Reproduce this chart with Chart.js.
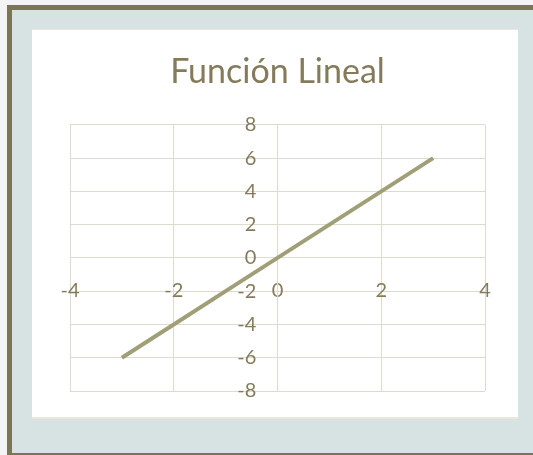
<!DOCTYPE html>
<html>
<head>
<meta charset="utf-8">
<script src="https://cdn.jsdelivr.net/npm/chart.js@4"></script>
<style>
  body { margin: 0; background: #f4f4f4; width: 533px; height: 455px; overflow: hidden; position: relative; }
  #frame { position: absolute; left: 7px; top: 5px; width: 526px; height: 450px;
           border-left: 5px solid #7a7654; border-top: 5px solid #7a7654; border-bottom: 2px solid #7a7654;
           background: #d7e3e3; box-sizing: border-box; }
  #panel { position: absolute; left: 32px; top: 29px; width: 486px; height: 390px;
           background: #fff; border-top: 1px solid #ece7dd; border-bottom: 2px solid #ece7dd; box-sizing: border-box; }
  #panel canvas { position: absolute; left: 0; top: 0; }
</style>
</head>
<body>
<div id="frame"></div>
<div id="panel"><canvas id="lineal" width="486" height="390"></canvas></div>
<script>
const xValues = [-3, -2, -1, 0, 1, 2, 3];
const yValues = [-6, -4, -2, 0, 2, 4, 6];
const xTicks = [-4, -2, 0, 2, 4];
const yTicks = [-8, -6, -4, -2, 0, 2, 4, 6, 8];

const txt = '#857b5b';
const grid = '#dedad0';

const ctx = document.getElementById('lineal').getContext('2d');
new Chart(ctx, {
  type: 'scatter',
  data: {
    datasets: [{
      data: xValues.map((x, i) => ({ x, y: yValues[i] })),
      showLine: true,
      borderColor: '#a09f78',
      borderWidth: 4,
      pointRadius: 0,
      tension: 0
    }]
  },
  options: {
    responsive: false,
    animation: false,
    layout: { padding: { left: 38, right: 33, top: 0, bottom: 29 } },
    plugins: {
      legend: { display: false },
      tooltip: { enabled: false },
      title: {
        display: true,
        text: 'Función Lineal',
        color: txt,
        font: { family: 'Lato', size: 34, weight: 'normal' },
        padding: { top: 22, bottom: 32 }
      }
    },
    scales: {
      x: {
        type: 'linear',
        min: -4, max: 4,
        position: { y: 0 },
        afterBuildTicks: s => { s.ticks = xTicks.map(v => ({ value: v })); },
        grid: { color: grid, lineWidth: 1, drawTicks: false },
        border: { color: grid },
        ticks: { color: txt, font: { family: 'Lato', size: 20 }, padding: 21 }
      },
      y: {
        type: 'linear',
        min: -8, max: 8,
        position: { x: 0 },
        afterBuildTicks: s => { s.ticks = yTicks.map(v => ({ value: v })); },
        grid: { color: grid, lineWidth: 1, drawTicks: false },
        border: { color: grid },
        // center-positioned y axis ignores ticks.padding, so pad the label text
        ticks: { color: txt, font: { family: 'Lato', size: 20 }, callback: v => v + '\u2003\u2005\u200A' }
      }
    }
  }
});
</script>
</body>
</html>
